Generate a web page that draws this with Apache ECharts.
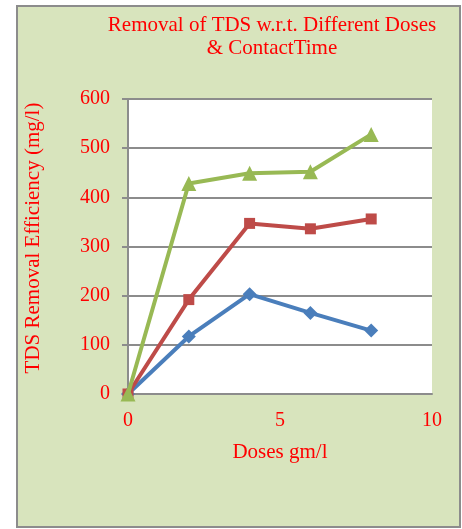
<!DOCTYPE html>
<html><head><meta charset="utf-8">
<script src="https://cdn.jsdelivr.net/npm/echarts@6/dist/echarts.min.js"></script>
<style>html,body{margin:0;padding:0;background:#fff}#c{width:462px;height:529px}</style>
</head><body><div id="c"></div>
<script>
const doses = [0, 2, 4, 6, 8];
const seriesA = [0, 117, 203, 165, 129];
const seriesB = [0, 192, 347, 336, 356];
const seriesC = [0, 428, 449, 452, 528];
const yTicks = [0, 100, 200, 300, 400, 500, 600];
const xTicks = [0, 5, 10];

const font = '"Liberation Serif", "Times New Roman", serif';
const chart = echarts.init(document.getElementById('c'));
function pts(ys){ return doses.map((x,i)=>[x, ys[i]]); }
chart.setOption({
  animation: false,
  graphic: [{type:'rect', shape:{x:17, y:6, width:443, height:521}, style:{fill:'#d8e4bd', stroke:'#8c8c8c', lineWidth:2}, z:-10}],
  title: {
    text: 'Removal of TDS w.r.t. Different Doses\n& ContactTime',
    left: 267, top: 9, textAlign: 'center',
    textStyle: {color:'#ff0000', fontFamily: font, fontSize: 21, fontWeight:'normal', lineHeight: 23}
  },
  grid: {left:128, top:99, width:304, height:295, show:true, backgroundColor:'#ffffff', borderWidth:0},
  xAxis: {
    type:'value', min:0, max:10, interval:5,
    axisLine:{show:true, lineStyle:{color:'#8c8c8c', width:2}},
    axisTick:{show:false},
    splitLine:{show:false},
    axisLabel:{color:'#ff0000', fontFamily:font, fontSize:20, margin:17},
    name:'Doses gm/l', nameLocation:'middle', nameGap:48,
    nameTextStyle:{color:'#ff0000', fontFamily:font, fontSize:21}
  },
  yAxis: {
    type:'value', min:0, max:600, interval:100,
    axisLine:{show:true, lineStyle:{color:'#8c8c8c', width:2}},
    axisTick:{show:true, length:6, lineStyle:{color:'#8c8c8c', width:2}},
    splitLine:{show:true, lineStyle:{color:'#8c8c8c', width:2}},
    axisLabel:{color:'#ff0000', fontFamily:font, fontSize:20, margin:18},
    name:'TDS Removal Efficiency (mg/l)', nameLocation:'middle', nameGap:84, nameRotate:90,
    nameTextStyle:{color:'#ff0000', fontFamily:font, fontSize:21, padding:[0,0,0,17]}
  },
  series: [
    {type:'line', data:pts(seriesA), symbol:'diamond', symbolSize:14, lineStyle:{color:'#4a7ebb', width:4}, itemStyle:{color:'#4a7ebb'}, z:3},
    {type:'line', data:pts(seriesB), symbol:'rect', symbolSize:11, lineStyle:{color:'#be4b48', width:4}, itemStyle:{color:'#be4b48'}, z:4},
    {type:'line', data:pts(seriesC), symbol:'triangle', symbolSize:15, lineStyle:{color:'#98b954', width:4}, itemStyle:{color:'#98b954'}, z:5}
  ]
});
</script></body></html>
